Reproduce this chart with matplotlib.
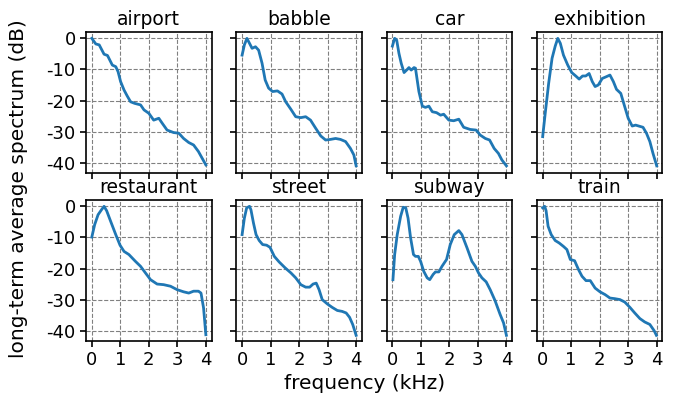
import matplotlib
matplotlib.use("Agg")
import matplotlib.pyplot as plt

plt.rcParams["axes.unicode_minus"] = False

names = ["airport", "babble", "car", "exhibition",
         "restaurant", "street", "subway", "train"]

airport_f = [0, 0.14, 0.26, 0.43, 0.55, 0.72, 0.84, 0.92, 1.01, 1.13, 1.24, 1.36, 1.5, 1.71,
             1.83, 2.0, 2.17, 2.35, 2.47, 2.64, 2.87, 3.05, 3.22, 3.4, 3.57, 3.74, 4.0]
airport_db = [0, -1.8, -2.1, -5.1, -5.5, -8.6, -9.1, -10.7, -13.9, -16.6, -18.5, -20.4, -20.9, -21.4,
              -23, -24.1, -26.3, -25.7, -27.3, -29.5, -30.3, -30.5, -32.2, -33.5, -34.3, -36.4, -40.7]

babble_f = [0, 0.08, 0.17, 0.26, 0.35, 0.47, 0.58, 0.7, 0.81, 0.93, 1.07, 1.24, 1.4, 1.53, 1.71,
            1.88, 2.06, 2.23, 2.4, 2.58, 2.76, 2.93, 3.1, 3.28, 3.45, 3.63, 3.8, 3.92, 4.0]
babble_db = [-5.4, -2.1, 0, -1.6, -3.2, -2.7, -3.8, -8, -13.4, -16, -17.1, -16.9, -17.9, -20.4, -22.8,
             -25.2, -25.5, -25.2, -26.3, -28.9, -31.4, -32.7, -32.5, -32.2, -32.5, -33.2, -35.4, -37.5, -41]

car_f = [0, 0.08, 0.15, 0.23, 0.31, 0.41, 0.5, 0.58, 0.66, 0.76, 0.81, 0.93, 1.05, 1.16, 1.28, 1.4,
         1.55, 1.69, 1.8, 1.98, 2.15, 2.33, 2.5, 2.73, 2.94, 3.08, 3.26, 3.41, 3.57, 3.72, 3.84, 4.0]
car_db = [-2.5, 0, -0.5, -4.8, -8, -11, -10.2, -9.4, -10.2, -9.4, -9.6, -17.1, -21.8, -22.2, -21.8, -23.6,
          -23.9, -24.7, -24.4, -26.3, -26.5, -26.0, -28.6, -29.3, -29.5, -31.1, -32.2, -32.7, -35.4, -37, -39.1, -41]

exhibition_f = [0, 0.09, 0.21, 0.33, 0.44, 0.53, 0.62, 0.73, 0.88, 1.02, 1.16, 1.28, 1.4, 1.51, 1.63,
                1.74, 1.84, 1.95, 2.09, 2.24, 2.36, 2.48, 2.59, 2.74, 2.86, 3.0, 3.14, 3.26, 3.37, 3.52,
                3.64, 3.76, 3.87, 4.0]
exhibition_db = [-31.6, -24.1, -14.5, -6.4, -2.5, 0, -1.6, -5.4, -8.6, -11, -12.1, -13.1, -12.1, -12.1, -11.3,
                 -13.9, -15.5, -15, -12.9, -12.3, -11.8, -13.9, -16.4, -17.7, -21.4, -25.7, -28.2, -27.9, -28.2, -28.6,
                 -30.5, -33.2, -37, -41]

restaurant_f = [0, 0.1, 0.22, 0.34, 0.43, 0.52, 0.66, 0.84, 0.99, 1.13, 1.3, 1.53, 1.71, 1.88, 2.06,
                2.29, 2.52, 2.76, 2.99, 3.22, 3.4, 3.57, 3.74, 3.83, 3.92, 4.0]
restaurant_db = [-9.9, -5.9, -2.7, -1.1, 0, -1.4, -4.8, -9.1, -12.5, -14.5, -15.5, -17.7, -19.3, -21.4, -23.6,
                 -25, -25.2, -25.7, -26.8, -27.5, -27.9, -27.3, -27.3, -27.9, -32.7, -41.3]

street_f = [0, 0.08, 0.16, 0.26, 0.31, 0.4, 0.49, 0.6, 0.72, 0.86, 0.98, 1.13, 1.3, 1.51, 1.71, 1.88,
            2.06, 2.23, 2.37, 2.49, 2.6, 2.7, 2.81, 2.99, 3.16, 3.34, 3.51, 3.65, 3.77, 3.88, 4.0]
street_db = [-9.1, -3.8, -0.5, 0, -1.1, -5.4, -9.1, -11, -12.3, -12.5, -13.2, -16.1, -17.9, -19.8, -21.4, -23,
             -25.2, -26, -26, -25, -24.7, -26.8, -30, -31.4, -32.5, -33.5, -33.8, -34.3, -35.7, -38, -41.5]

subway_f = [0.02, 0.08, 0.17, 0.29, 0.38, 0.47, 0.55, 0.64, 0.74, 0.81, 0.91, 0.99, 1.1, 1.22, 1.31, 1.43,
            1.51, 1.63, 1.74, 1.9, 2.03, 2.17, 2.33, 2.44, 2.62, 2.79, 2.91, 3.02, 3.14, 3.29, 3.43, 3.6,
            3.78, 3.9, 4.0]
subway_db = [-23.6, -15.5, -9.1, -3.2, -0.3, -0.5, -3.8, -10.2, -15.5, -16.1, -16.1, -17.7, -20.9, -23, -23.6, -21.9,
             -21.1, -21.1, -19.3, -17.1, -12.3, -9.1, -7.8, -9.1, -13.4, -17.7, -19.3, -21.4, -23, -24.3, -26.8, -30.3,
             -34.8, -37.5, -41.5]

train_f = [0, 0.07, 0.12, 0.19, 0.3, 0.44, 0.58, 0.73, 0.85, 0.97, 1.12, 1.26, 1.38, 1.52, 1.67, 1.84,
           2.01, 2.19, 2.36, 2.53, 2.71, 2.88, 3.06, 3.23, 3.41, 3.58, 3.76, 3.91, 3.99]
train_db = [-0.5, 0, -1.4, -6.4, -9.1, -11, -11.8, -12.9, -13.9, -17.1, -17.5, -20.4, -22.5, -23.9, -23.9, -26.3,
            -27.5, -28.4, -29.5, -29.7, -30, -30.8, -32.5, -34.3, -36.1, -37.2, -38, -40, -41.5]

curves = [(airport_f, airport_db), (babble_f, babble_db), (car_f, car_db),
          (exhibition_f, exhibition_db), (restaurant_f, restaurant_db),
          (street_f, street_db), (subway_f, subway_db), (train_f, train_db)]

fig, axes = plt.subplots(2, 4, figsize=(6.78, 4.03), dpi=100, sharex=True, sharey=True)
fig.subplots_adjust(left=0.127, right=0.977, top=0.921, bottom=0.154, wspace=0.198, hspace=0.19)

for ax, name, (f, db) in zip(axes.flatten(), names, curves):
    ax.plot(f, db, color="#1f77b4", linewidth=2)
    ax.set_title(name, fontsize=13.5, pad=5)
    ax.grid(True, linestyle="--", color="gray", linewidth=0.8)
    ax.tick_params(labelsize=13, width=1.2, length=4)
    for s in ax.spines.values():
        s.set_linewidth(1.2)

ax = axes[0, 0]
ax.set_xlim(-0.2, 4.2)
ax.set_ylim(-43.3, 2.1)
ax.set_xticks([0, 1, 2, 3, 4])
ax.set_yticks([0, -10, -20, -30, -40])

fig.text(0.027, 0.533, "long-term average spectrum (dB)", rotation=90,
         ha="center", va="center", fontsize=14.5)
fig.text(0.537, 0.048, "frequency (kHz)", ha="center", va="center", fontsize=14.5)

fig.savefig("out.png", dpi=100)
